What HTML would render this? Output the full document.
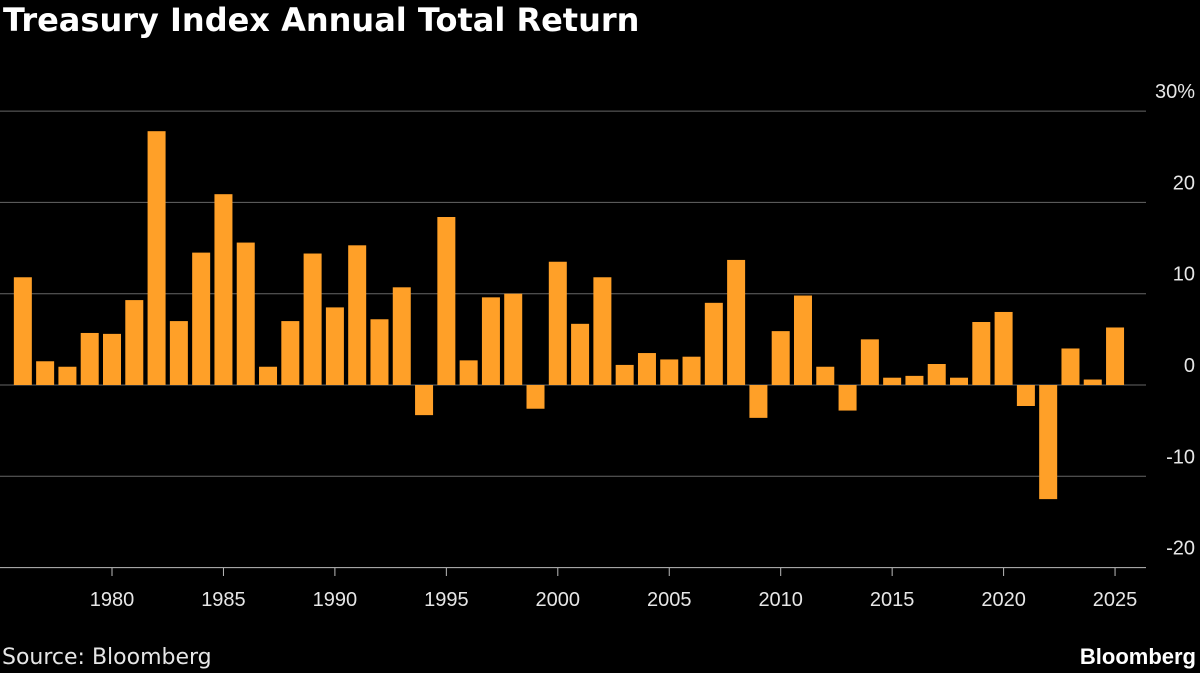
<!DOCTYPE html>
<html><head><meta charset="utf-8">
<style>
html,body{margin:0;padding:0;background:#000;width:1200px;height:673px;overflow:hidden;font-family:"Liberation Sans",sans-serif;color:#fff}
#title{position:absolute;left:3px;top:1px;font-size:32px;font-weight:bold;font-family:"DejaVu Sans",sans-serif;white-space:nowrap}
#source{position:absolute;left:2px;top:645px;font-size:22px;color:#e6e6e6;font-family:"DejaVu Sans",sans-serif;white-space:nowrap}
#brand{position:absolute;right:4px;top:644px;font-size:22px;font-weight:bold}
svg{position:absolute;left:0;top:0}
</style></head><body>
<div id="title">Treasury Index Annual Total Return</div>
<svg id="chart" width="1200" height="673"></svg>
<div id="source">Source: Bloomberg</div>
<div id="brand">Bloomberg</div>
<script>
const years = [1976,1977,1978,1979,1980,1981,1982,1983,1984,1985,1986,1987,1988,1989,1990,1991,1992,1993,1994,1995,1996,1997,1998,1999,2000,2001,2002,2003,2004,2005,2006,2007,2008,2009,2010,2011,2012,2013,2014,2015,2016,2017,2018,2019,2020,2021,2022,2023,2024,2025];
const returns = [11.8,2.6,2.0,5.7,5.6,9.3,27.8,7.0,14.5,20.9,15.6,2.0,7.0,14.4,8.5,15.3,7.2,10.7,-3.3,18.4,2.7,9.6,10.0,-2.6,13.5,6.7,11.8,2.2,3.5,2.8,3.1,9.0,13.7,-3.6,5.9,9.8,2.0,-2.8,5.0,0.8,1.0,2.3,0.8,6.9,8.0,-2.3,-12.5,4.0,0.6,6.3];
const yTicks = [-20,-10,0,10,20,30];
const yTickLabels = ["-20","-10","0","10","20","30%"];
const xTicks = [1980,1985,1990,1995,2000,2005,2010,2015,2020,2025];

const NS="http://www.w3.org/2000/svg";
const svg=document.getElementById('chart');
const y=v=>385-v*9.13;
const x=yr=>112+(yr-1980)*22.29;
const bw=18;
function mk(t,a){const e=document.createElementNS(NS,t);for(const k in a)e.setAttribute(k,a[k]);svg.appendChild(e);return e;}

yTicks.forEach((t,i)=>{
  const g=mk('line',{x1:0,x2:1146,y1:y(t),y2:y(t),stroke:t===-20?'#bbb':'#666','stroke-width':1});
  
  
  const l=mk('text',{x:1195,y:y(t)-13,'text-anchor':'end',fill:'#e6e6e6','font-size':20,'font-family':'Liberation Sans, sans-serif'});
  l.textContent=yTickLabels[i];
  
  
});
years.forEach((yr,i)=>{
  const v=returns[i];
  const r=mk('rect',{x:x(yr)-bw/2,y:Math.min(y(v),y(0)),width:bw,height:Math.abs(y(v)-y(0)),fill:'#ffa028'});
  
  
});
xTicks.forEach(yr=>{
  const tk=mk('line',{x1:x(yr),x2:x(yr),y1:568,y2:576,stroke:'#bbb','stroke-width':1});
  
  
  const l=mk('text',{x:x(yr),y:606,'text-anchor':'middle',fill:'#e6e6e6','font-size':20,'font-family':'Liberation Sans, sans-serif'});
  l.textContent=yr;
  
  
});
</script>
</body></html>
